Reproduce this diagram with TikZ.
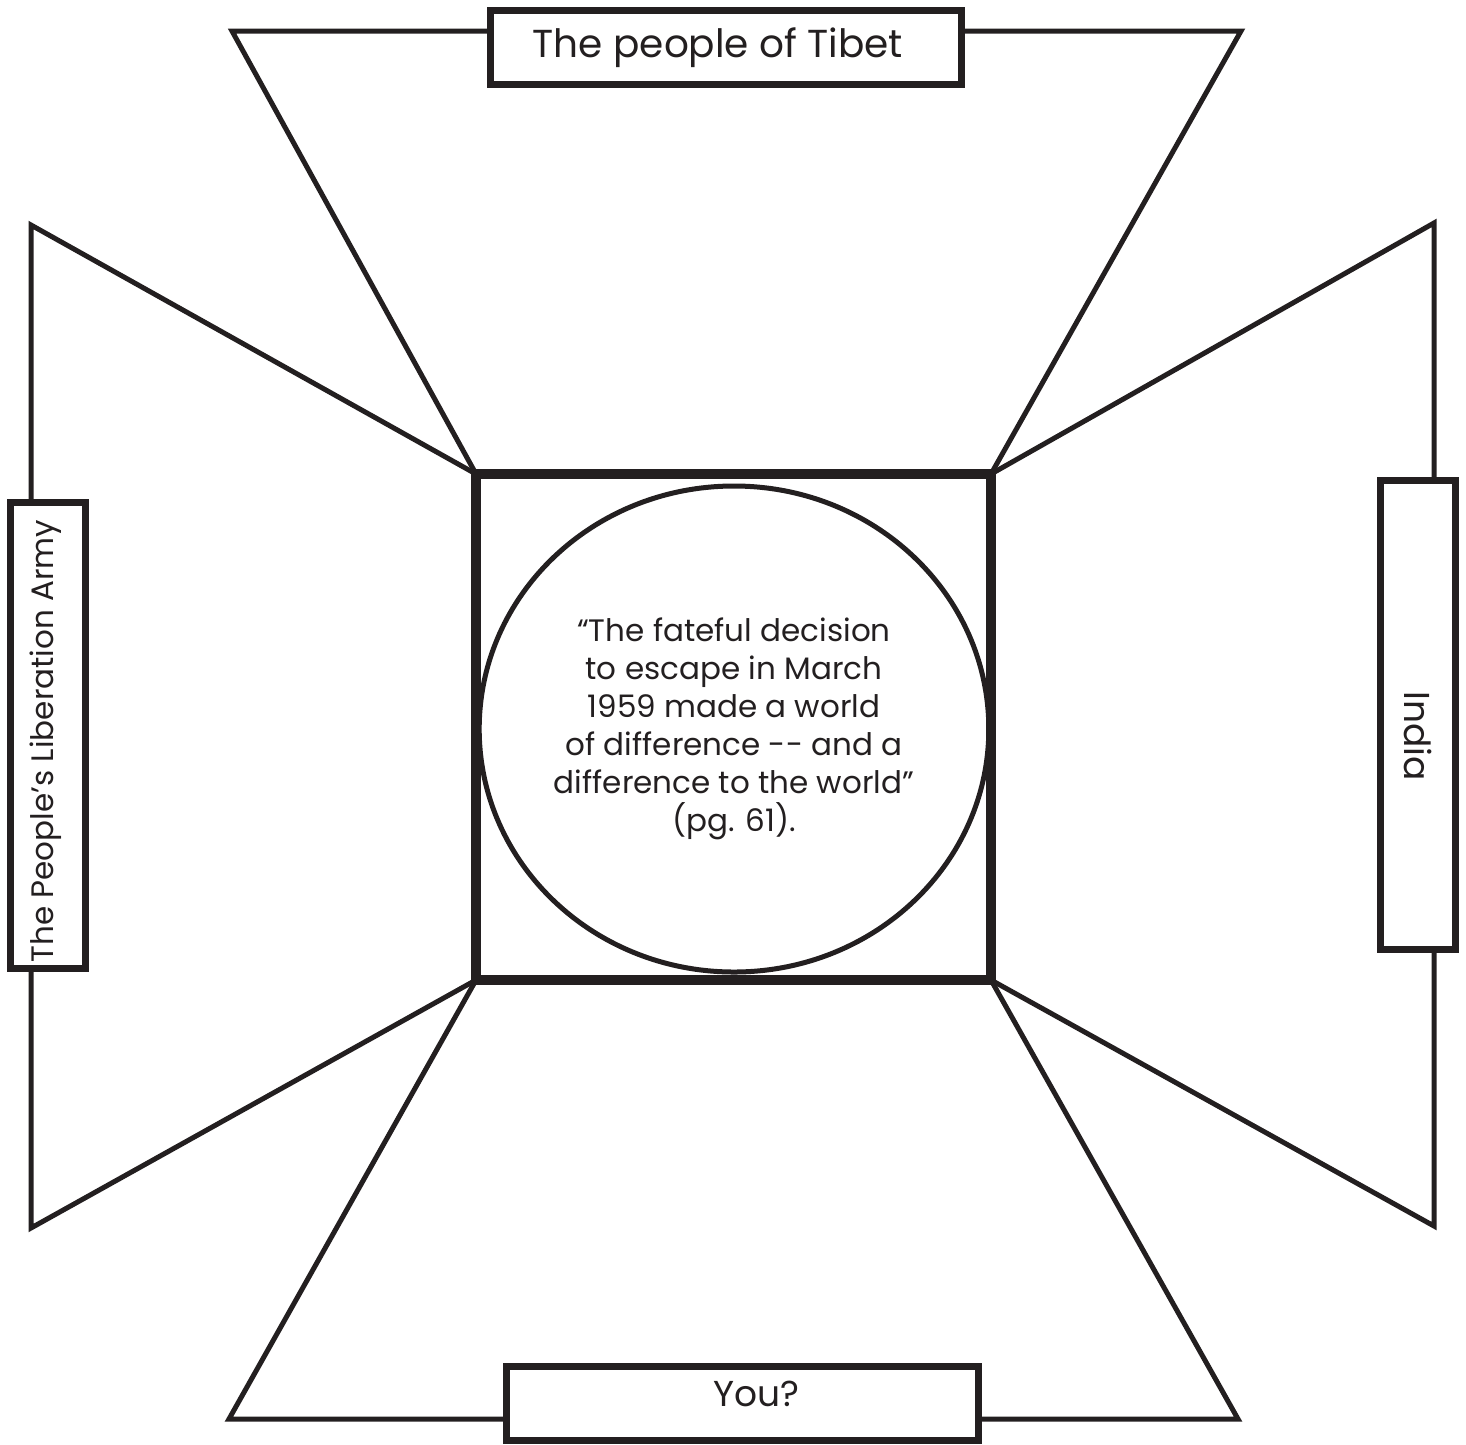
\documentclass[tikz,border=0pt]{standalone}
\usepackage{fontspec}
\setmainfont{Poppins}
\usepackage{tikz}
\usetikzlibrary{
	shapes.geometric,
	backgrounds,
	positioning
}
\definecolor{Ink}{RGB}{35,31,32}

\tikzset{
	wing/.style={line width=5pt, line join=miter, draw=Ink},
	hubbox/.style={draw=Ink, line width=10pt, outer sep=0pt, inner sep=0pt,
		minimum width=515pt, minimum height=506pt},
	tagbox/.style={draw=Ink, fill=white, line width=7pt, outer sep=0pt, inner sep=0pt},
	tagtext/.style={text=Ink, inner sep=0pt, font=\fontsize{36}{42}\selectfont},
}

\begin{document}
\begin{tikzpicture}[x=1pt, y=-1pt]
		\useasboundingbox (0,0) rectangle (1466,1444);
		
		% centre square and circle
		\node[hubbox] (hub) at (733.5,727) {};
		\node[ellipse, draw=Ink, line width=5pt, minimum width=504pt, minimum height=486pt,
			inner sep=0pt, align=center, text=Ink, font=\fontsize{31}{38}\selectfont]
			(quote) at (734,729) {“The fateful decision\\to escape in March\\1959 made a world\\of difference -{}- and a\\difference to the world”\\(pg. 61).};
		
		% outer corners of the four wings
		\coordinate (topL) at (232,31);
		\coordinate (topR) at (1241,31);
		\coordinate (leftT) at (31,225);
		\coordinate (leftB) at (31,1228);
		\coordinate (rightT) at (1434,223);
		\coordinate (rightB) at (1434,1226);
		\coordinate (botL) at (229,1419);
		\coordinate (botR) at (1238,1419);
		
		\begin{scope}[on background layer]
			\draw[wing] (hub.north west) -- (topL) -- (topR) -- (hub.north east);
			\draw[wing] (hub.north west) -- (leftT) -- (leftB) -- (hub.south west);
			\draw[wing] (hub.north east) -- (rightT) -- (rightB) -- (hub.south east);
			\draw[wing] (hub.south west) -- (botL) -- (botR) -- (hub.south east);
		\end{scope}
		
		% label boxes
		\node[tagbox, minimum width=471pt, minimum height=74pt] (tibet) at (726,47.5) {};
		\node[tagbox, minimum width=466pt, minimum height=75pt, rotate=90] (pla) at (48,735) {};
		\node[tagbox, minimum width=469pt, minimum height=75pt, rotate=-90] (india) at (1418,715) {};
		\node[tagbox, minimum width=472pt, minimum height=74pt] (you) at (742.5,1403.5) {};
		
		\node[tagtext, font=\fontsize{39}{44}\selectfont] (tibetText) at (718,48) {The people of Tibet};
		\node[tagtext, font=\fontsize{31}{36}\selectfont, rotate=90] (plaText) at (46,741) {The People’s Liberation Army};
		\node[tagtext, rotate=-90] (indiaText) at (1418,736) {India};
		\node[tagtext] (youText) at (756,1394) {You?};
	\end{tikzpicture}
\end{document}
